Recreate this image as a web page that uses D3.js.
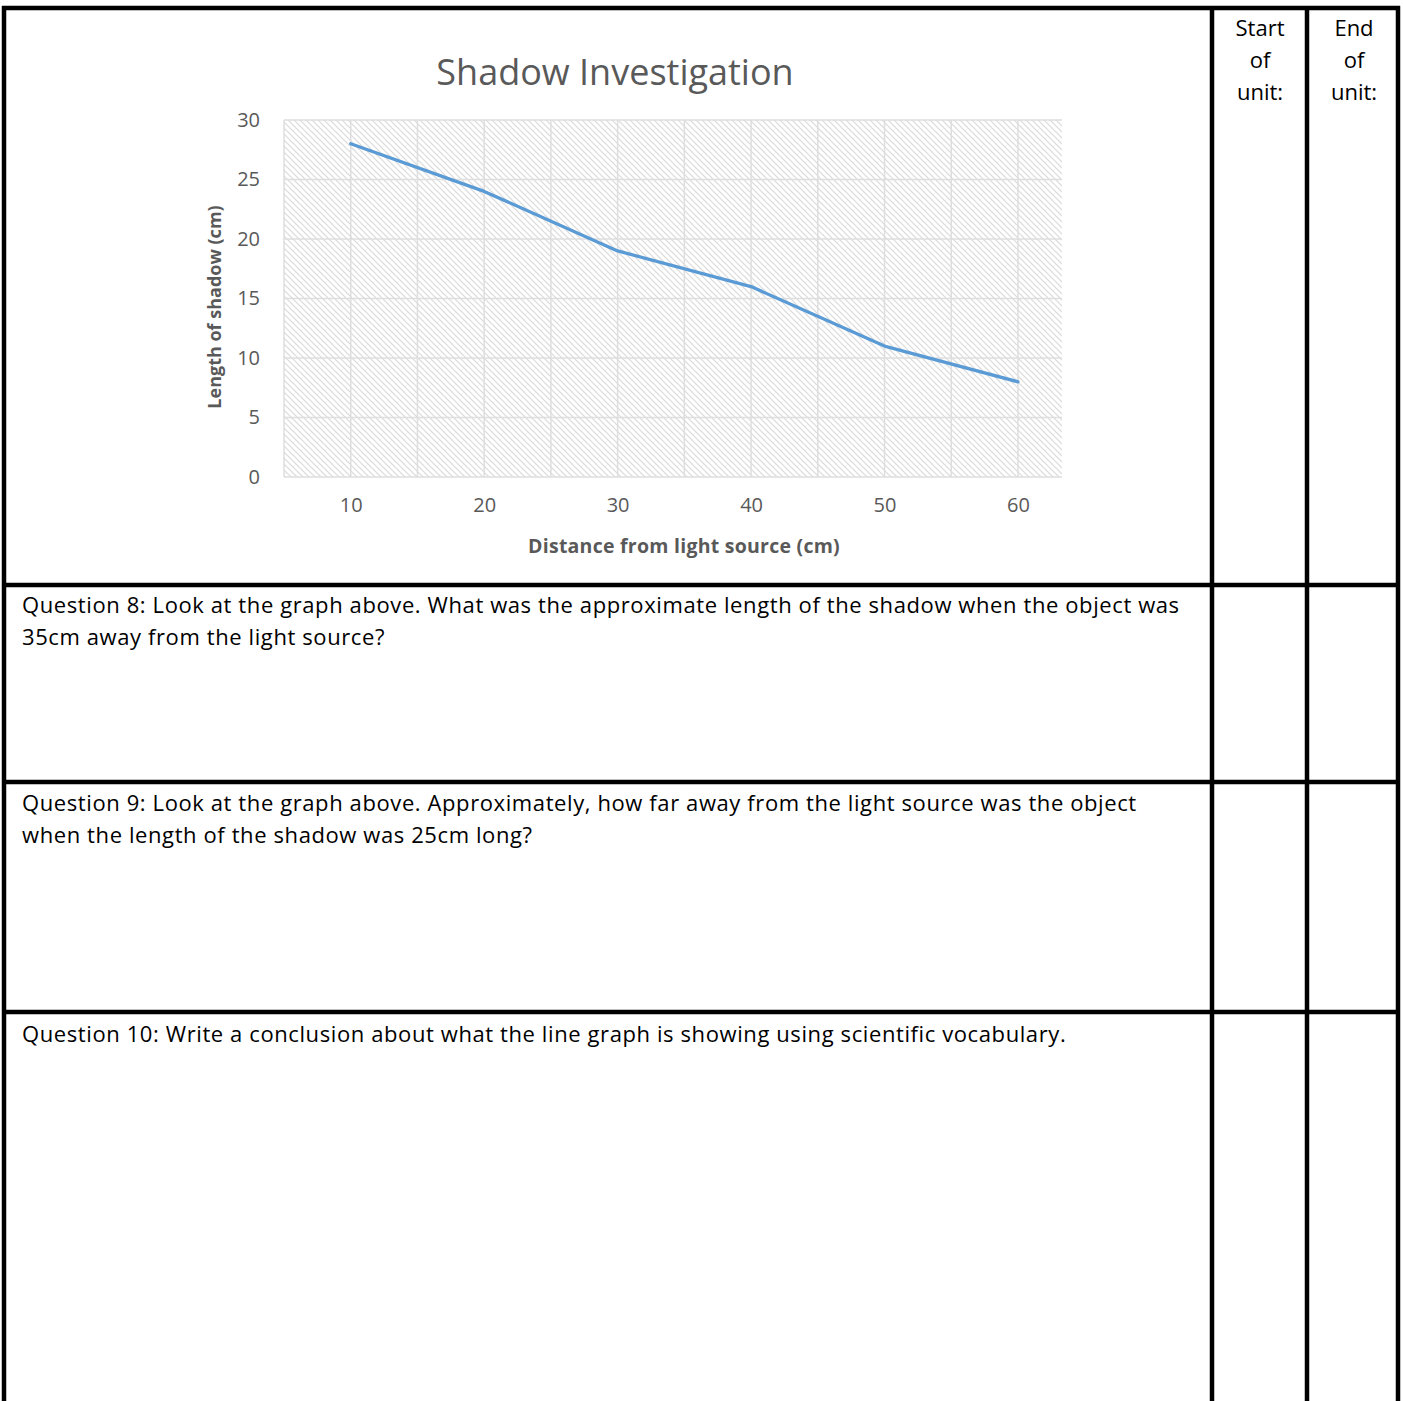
<!DOCTYPE html>
<html>
<head>
<meta charset="utf-8">
<script src="https://cdn.jsdelivr.net/npm/d3@7"></script>
<style>
  body { margin: 0; background: #fff; }
  svg { display: block; }
  .q { font-family: "Open Sans", sans-serif; font-size: 22px; letter-spacing: 0.6px; fill: #000; }
  .ch { font-family: "Open Sans", sans-serif; fill: #595959; }
</style>
</head>
<body>
<div id="sheet"></div>
<script>
// chart data
var distances = [10, 20, 30, 40, 50, 60];
var shadowLengths = [28, 24, 19, 16, 11, 8];
var yTicks = [0, 5, 10, 15, 20, 25, 30];
var xGrid = [5, 10, 15, 20, 25, 30, 35, 40, 45, 50, 55, 60];

var chartTitle = "Shadow Investigation";
var xTitle = "Distance from light source (cm)";
var yTitle = "Length of shadow (cm)";

// worksheet text
var headerCols = [["Start", "of", "unit:"], ["End", "of", "unit:"]];
var questions = [
    ["Question 8: Look at the graph above. What was the approximate length of the shadow when the object was",
     "35cm away from the light source?"],
    ["Question 9: Look at the graph above. Approximately, how far away from the light source was the object",
     "when the length of the shadow was 25cm long?"],
    ["Question 10: Write a conclusion about what the line graph is showing using scientific vocabulary."]
];

var W = 1403, H = 1401;

var svg = d3.select("#sheet")
    .append("svg")
    .attr("width", W)
    .attr("height", H);

// hatch fill for the plot area
var defs = svg.append("defs");
var pat = defs.append("pattern")
    .attr("id", "hatch")
    .attr("patternUnits", "userSpaceOnUse")
    .attr("width", 6)
    .attr("height", 6);
pat.append("rect").attr("width", 6).attr("height", 6).attr("fill", "#fff");
pat.append("path")
    .attr("d", "M-1,-1 L7,7 M-4,2 L2,8 M4,-2 L8,2")
    .attr("stroke", "#dadada")
    .attr("stroke-width", 1.2);

// ---- chart ----
var plotLeft = 284, plotRight = 1062, plotTop = 120, plotBottom = 477;

var x = d3.scaleLinear()
    .domain([5, 63.3])
    .range([plotLeft, plotRight]);
var y = d3.scaleLinear()
    .domain([0, 30])
    .range([plotBottom, plotTop]);

var chart = svg.append("g");

chart.append("rect")
    .attr("x", plotLeft)
    .attr("y", plotTop)
    .attr("width", plotRight - plotLeft)
    .attr("height", plotBottom - plotTop)
    .attr("fill", "url(#hatch)");

// gridlines
chart.selectAll(".hgrid")
    .data(yTicks)
    .enter().append("line")
    .attr("x1", plotLeft).attr("x2", plotRight)
    .attr("y1", function(d){ return y(d); })
    .attr("y2", function(d){ return y(d); })
    .attr("stroke", "#dedede")
    .attr("stroke-width", 1.5);

chart.selectAll(".vgrid")
    .data(xGrid)
    .enter().append("line")
    .attr("x1", function(d){ return x(d); })
    .attr("x2", function(d){ return x(d); })
    .attr("y1", plotTop).attr("y2", plotBottom)
    .attr("stroke", "#dedede")
    .attr("stroke-width", 1.5);

// axes text via d3 axes, with lines removed
var yAxis = chart.append("g")
    .attr("transform", "translate(" + (plotLeft - 24) + ",0)")
    .call(d3.axisLeft(y).tickValues(yTicks).tickSize(0).tickPadding(0));
var xAxis = chart.append("g")
    .attr("transform", "translate(0," + (plotBottom + 21) + ")")
    .call(d3.axisBottom(x).tickValues(distances).tickSize(0).tickPadding(0));

[yAxis, xAxis].forEach(function(a){
    a.select(".domain").remove();
    a.selectAll("text")
        .attr("class", "ch")
        .style("font-size", "20px")
        .attr("fill", "#595959");
});
xAxis.selectAll("text").attr("dy", "0.71em");

// series line
var line = d3.line()
    .x(function(d, i){ return x(distances[i]); })
    .y(function(d){ return y(d); });

chart.append("path")
    .datum(shadowLengths)
    .attr("d", line)
    .attr("fill", "none")
    .attr("stroke", "#5b9bd5")
    .attr("stroke-width", 3.3)
    .attr("stroke-linejoin", "round")
    .attr("stroke-linecap", "round");

// titles
chart.append("text")
    .attr("class", "ch")
    .attr("x", 615).attr("y", 85)
    .attr("text-anchor", "middle")
    .style("font-size", "36px")
    .attr("fill", "#757575")
    .text(chartTitle);

chart.append("text")
    .attr("class", "ch")
    .attr("x", 684).attr("y", 553)
    .attr("text-anchor", "middle")
    .style("font-size", "19.5px")
    .style("letter-spacing", "0.25px")
    .style("font-weight", "bold")
    .text(xTitle);

chart.append("text")
    .attr("class", "ch")
    .attr("transform", "translate(221,307) rotate(-90)")
    .attr("text-anchor", "middle")
    .style("font-size", "18px")
    .style("font-weight", "bold")
    .text(yTitle);

// ---- worksheet table ----
var colLines = [4, 1212, 1307, 1398];
var rowLines = [8, 585, 782, 1012];

var grid = svg.append("g");
grid.selectAll(".col")
    .data(colLines)
    .enter().append("line")
    .attr("x1", function(d){ return d; })
    .attr("x2", function(d){ return d; })
    .attr("y1", 6).attr("y2", H)
    .attr("stroke", "#000")
    .attr("stroke-width", 4.5);
grid.selectAll(".row")
    .data(rowLines)
    .enter().append("line")
    .attr("x1", 2).attr("x2", 1400)
    .attr("y1", function(d){ return d; })
    .attr("y2", function(d){ return d; })
    .attr("stroke", "#000")
    .attr("stroke-width", 4.5);

// header cells
var headerX = [1260, 1354];
headerCols.forEach(function(words, c){
    grid.selectAll(".h" + c)
        .data(words)
        .enter().append("text")
        .attr("class", "q")
        .attr("x", headerX[c])
        .attr("y", function(d, i){ return 36 + i * 32; })
        .attr("text-anchor", "middle")
        .style("letter-spacing", "0px")
        .text(function(d){ return d; });
});

// questions
var qTop = [613, 811, 1042];
questions.forEach(function(lines, k){
    grid.selectAll(".qq" + k)
        .data(lines)
        .enter().append("text")
        .attr("class", "q")
        .attr("x", 22)
        .attr("y", function(d, i){ return qTop[k] + i * 32; })
        .text(function(d){ return d; });
});
</script>
</body>
</html>
